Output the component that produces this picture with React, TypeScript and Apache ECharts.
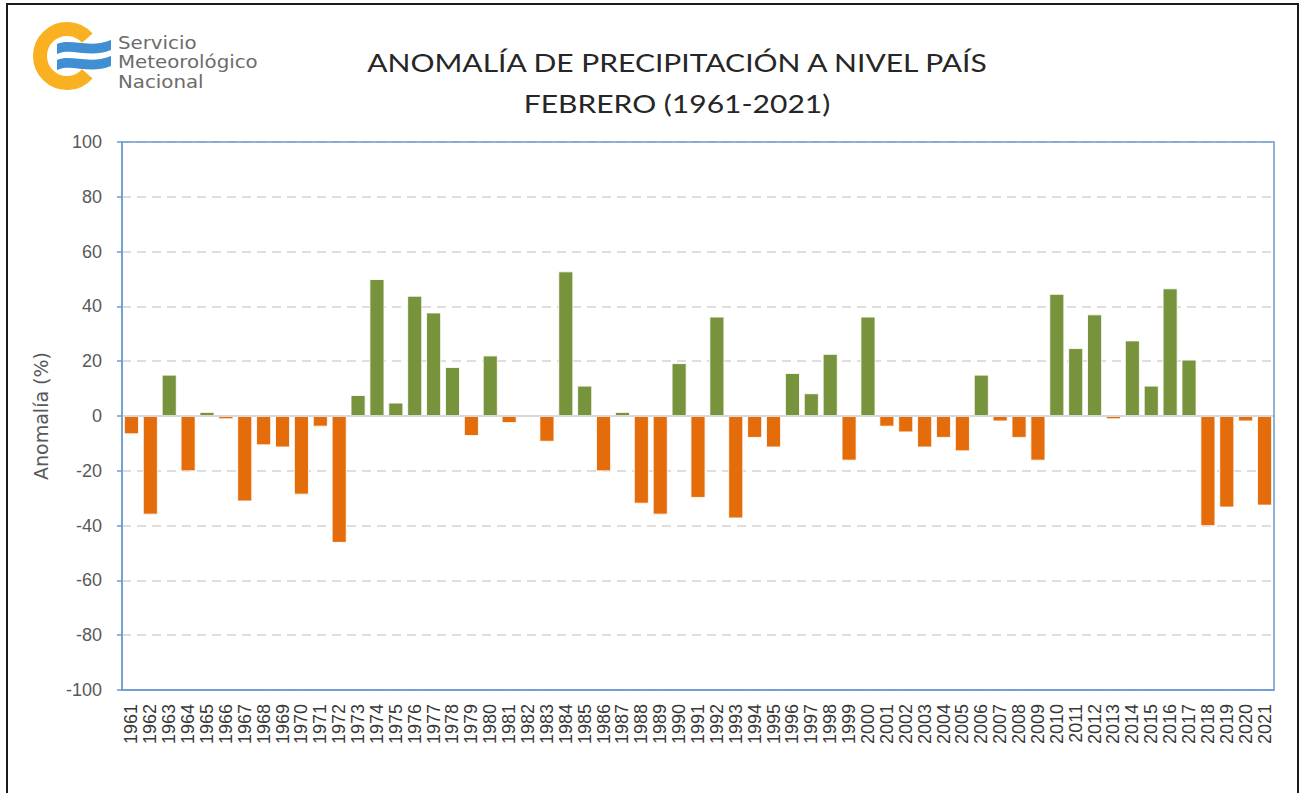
import React, { useEffect, useRef } from "react";
import * as echarts from "echarts";

const years: string[] = [
  "1961","1962","1963","1964","1965","1966","1967","1968","1969","1970",
  "1971","1972","1973","1974","1975","1976","1977","1978","1979","1980",
  "1981","1982","1983","1984","1985","1986","1987","1988","1989","1990",
  "1991","1992","1993","1994","1995","1996","1997","1998","1999","2000",
  "2001","2002","2003","2004","2005","2006","2007","2008","2009","2010",
  "2011","2012","2013","2014","2015","2016","2017","2018","2019","2020",
  "2021",
];

const anomalies: number[] = [
  -6.7, -36, 15.1, -20.2, 1.5, -1.2, -31.2, -10.7, -11.5, -28.7,
  -3.9, -46.3, 7.7, 50, 4.9, 43.9, 37.8, 17.9, -7.3, 22.1,
  -2.6, 0, -9.4, 52.8, 11.1, -20.2, 1.5, -32, -36, 19.3,
  -29.9, 36.3, -37.4, -8, -11.5, 15.7, 8.3, 22.7, -16.3, 36.3,
  -3.9, -6, -11.5, -8, -12.9, 15.1, -2, -8, -16.3, 44.6,
  24.8, 37.1, -1.2, 27.6, 11.1, 46.6, 20.6, -40.2, -33.4, -2,
  -32.7,
];

const titleLines: string[] = ["ANOMALÍA DE PRECIPITACIÓN A NIVEL PAÍS", "FEBRERO (1961-2021)"];
const logoLines: string[] = ["Servicio", "Meteorológico", "Nacional"];
const yAxisName = "Anomalía (%)";

const GREEN = "#77933C";
const ORANGE = "#E46C0A";
const BLUE = "#6C9BD2";

const GRID = { left: 122, right: 31, top: 142, bottom: 103 };
const W = 1305;
const H = 793;

let registered = false;
function registerShapes() {
  if (registered) return;
  registered = true;
  echarts.graphic.registerShape(
    "smnwave",
    (echarts.graphic as any).extendPath(
      "M0 5 C14 -1 32 10 54 1 L54 11 C32 20 14 8 0 15 Z",
      {}
    )
  );
}

export default function App() {
  const ref = useRef<HTMLDivElement>(null);

  useEffect(() => {
    document.body.style.margin = "0";
    registerShapes();
    const chart = echarts.init(ref.current!, undefined, { renderer: "svg" });
    chart.setOption({
      animation: false,
      backgroundColor: "#ffffff",
      grid: { ...GRID, show: false },
      xAxis: {
        type: "category",
        data: years,
        position: "bottom",
        axisLine: { show: true, onZero: false, lineStyle: { color: BLUE, width: 1.5 } },
        axisTick: { show: false },
        axisLabel: {
          interval: 0,
          rotate: 90,
          margin: 14,
          fontSize: 18,
          fontFamily: "Liberation Sans, Arial, sans-serif",
          color: "#383838",
        },
        splitLine: { show: false },
      },
      yAxis: {
        type: "value",
        min: -100,
        max: 100,
        interval: 20,
        name: yAxisName,
        nameLocation: "middle",
        nameGap: 72,
        nameTextStyle: {
          fontSize: 19,
          fontFamily: "DejaVu Sans, sans-serif",
          color: "#595959",
        },
        axisLine: { show: true, lineStyle: { color: BLUE, width: 1.5 } },
        axisTick: { show: true, length: 5, lineStyle: { color: BLUE, width: 1.5 } },
        axisLabel: {
          margin: 20,
          fontSize: 18,
          fontFamily: "Liberation Sans, Arial, sans-serif",
          color: "#595959",
        },
        splitLine: {
          show: true,
          lineStyle: { color: "#d4d4d4", width: 1.5, type: [9, 6] },
        },
      },
      series: [
        {
          type: "bar",
          data: anomalies,
          barCategoryGap: "20%",
          itemStyle: {
            color: (p: any) => (p.value >= 0 ? GREEN : ORANGE),
            borderColor: "rgba(255,255,255,0.85)",
            borderWidth: 1,
          },
          markLine: {
            silent: true,
            symbol: "none",
            label: { show: false },
            lineStyle: { color: "#d9d9d9", width: 2, type: "solid" },
            data: [{ yAxis: 0 }],
          },
        },
      ],
      graphic: [
        {
          type: "rect",
          shape: { x: 7, y: 4, width: 1291, height: 820 },
          style: { fill: "none", stroke: "#1a1a1a", lineWidth: 2 },
          silent: true,
        },
        {
          type: "rect",
          z: 100,
          shape: {
            x: GRID.left,
            y: GRID.top,
            width: W - GRID.left - GRID.right,
            height: H - GRID.top - GRID.bottom,
          },
          style: { fill: "none", stroke: BLUE, lineWidth: 1.5 },
          silent: true,
        },
        {
          type: "arc",
          shape: { cx: 67, cy: 56, r: 27, startAngle: 0.72, endAngle: Math.PI * 2 - 0.72, clockwise: true },
          style: { fill: "none", stroke: "#F9B122", lineWidth: 14 },
          silent: true,
        },
        {
          type: "smnwave",
          x: 57,
          y: 39,
          style: { fill: "#3F8FD2" },
          silent: true,
        },
        {
          type: "smnwave",
          x: 57,
          y: 55,
          style: { fill: "#3F8FD2" },
          silent: true,
        },
        ...logoLines.map((t, i) => ({
          type: "text",
          x: 118,
          y: 42 + i * 19.5,
          scaleX: 1.1,
          style: {
            text: t,
            fontSize: 18,
            fontFamily: "DejaVu Sans, sans-serif",
            fill: "#6b6b6b",
            align: "left",
            verticalAlign: "middle",
          },
          silent: true,
        })),
        ...titleLines.map((t, i) => ({
          type: "text",
          x: 677,
          y: 62 + i * 41,
          scaleX: 1.2,
          style: {
            text: t,
            fontSize: 25,
            fontFamily: "Lato, sans-serif",
            fill: "#262626",
            align: "center",
            verticalAlign: "middle",
          },
          silent: true,
        })),
      ],
    });
    return () => chart.dispose();
  }, []);

  return <div ref={ref} style={{ width: W, height: H }} />;
}
